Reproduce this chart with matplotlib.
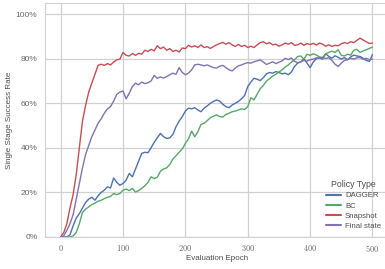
import matplotlib
matplotlib.use("Agg")
import matplotlib.pyplot as plt
import seaborn as sns
import numpy as np
from matplotlib.ticker import FuncFormatter, MultipleLocator

# evaluation epochs, every 5
epochs = np.arange(0, 505, 5)

# success rates (%)
dagger = [0, 0, 0, 1, 5, 8.5, 10.5, 13, 15.5, 17, 17.8, 16.5, 18.5, 20, 21, 22.5, 22, 26.5, 24.5, 23.2,
          24, 25.5, 28.5, 27, 30.5, 34, 37.5, 38, 37.8, 40, 42.5, 44.5, 46.5, 45, 44.2, 44.5, 46, 49.5, 52, 54,
          56.5, 57.8, 57.5, 58, 57, 56.2, 57.8, 58.8, 60, 60.8, 61.5, 61, 59.5, 58.5, 58, 59.2, 60, 60.8, 62, 63.5,
          67.5, 69.5, 71.2, 70.8, 70.2, 71.5, 73.2, 73.8, 73.5, 74.2, 73.8, 73.2, 73.5, 72.8, 74, 76.5, 78, 78.5, 80, 78,
          76, 78.5, 80, 80.4, 79.8, 82.2, 81, 80.2, 81.3, 80.6, 79.8, 80.5, 79.5, 80.8, 81.6, 81.2, 81, 80.2, 79.2, 78.8,
          81.8]
bc = [0, 0, 0, 0, 0.5, 2, 6, 11, 12.5, 13.5, 14.5, 15.2, 16, 16.5, 17.2, 17.8, 18.2, 19.5, 19, 19.5,
      21, 21.5, 20.8, 21.8, 20.2, 20.8, 21.8, 23, 24.5, 27, 26.2, 26.8, 29.5, 30.5, 31, 32.5, 35, 36.5, 38, 39.5,
      42, 44, 47.5, 45, 47.2, 50.5, 51, 52.2, 53.5, 54.2, 54.8, 54, 53.8, 55, 55.5, 56.2, 56.5, 57, 57.5, 57.2,
      58.5, 62.5, 61.5, 64, 66.5, 68, 70, 71, 72.2, 73, 74, 75, 76.2, 77.2, 78.5, 79.5, 81, 81.2, 79.8, 82,
      81.5, 82.2, 81.6, 80.8, 80.5, 82.2, 82.8, 83.4, 82.8, 84, 81.5, 81.2, 82, 81.6, 83.8, 84.2, 82.8, 83.5, 84, 84.6,
      85.2]
snapshot = [0, 2, 6, 13, 19, 28, 40, 52, 59, 65, 69, 73, 77, 77.5, 77, 77.8, 77.2, 78.5, 79.5, 79.8,
            82.8, 81.5, 81.2, 82.3, 81.5, 82.4, 82, 83.8, 83.2, 84.2, 83.5, 85.8, 84.5, 85.2, 83.8, 84.5, 83.2, 83.8, 83, 84.8,
            84.5, 86, 85.2, 85.8, 85, 86.2, 85, 85.4, 84.6, 85.4, 86.2, 86.8, 87.3, 86.5, 87.2, 86.2, 85.5, 86.4, 85.5, 86,
            85, 85.6, 85, 86.2, 87.2, 87.6, 86.7, 87.2, 86.2, 86.5, 85.6, 86.2, 87, 86.5, 87.2, 86, 86.2, 87, 86, 86.8,
            86.3, 86.9, 86.1, 87, 86.5, 85.6, 86.2, 85.5, 86, 85.8, 86.7, 87.2, 86.8, 87.6, 87.2, 88.2, 89.2, 88.4, 87.6, 86.8,
            87]
final_state = [0, 0.5, 3, 6, 10, 17, 24, 31, 37, 41, 45, 48, 51, 53, 55.5, 57.5, 58.5, 61, 64, 65,
               65.5, 62, 64.5, 67.5, 69, 68.3, 69.5, 68.8, 69.2, 70, 72.5, 71.2, 71.8, 71.3, 72, 72.8, 73.5, 73, 76, 73.8,
               72.8, 73.5, 75, 77.2, 77.5, 77.2, 76.8, 77.2, 76.6, 76, 75.8, 76.6, 77, 76, 75, 74.5, 75.8, 76.8, 77.2, 77.8,
               78.2, 78, 78.6, 79, 79.5, 78.5, 77.4, 78, 78.6, 77.8, 78.4, 79, 80.2, 79.6, 80.3, 78.8, 78.2, 78.6, 79.2, 78.9,
               79.5, 79.8, 80.4, 80.2, 80.6, 80.1, 80.4, 79.2, 77.5, 76.5, 78, 79.2, 79.6, 80.2, 79.8, 80.4, 80.5, 79.8, 80.2, 79.5,
               79.8]

series = ["DAGGER", "BC", "Snapshot", "Final state"]
values = [dagger, bc, snapshot, final_state]
colors = ["#4c72b0", "#55a868", "#c44e52", "#8172b2"]

sns.set_style("whitegrid")
plt.rcParams["font.family"] = ["Liberation Sans", "DejaVu Sans"]
plt.rcParams["mathtext.fontset"] = "cm"

fig = plt.figure(figsize=(3.85, 2.69), dpi=100)
# the right edge of the axes runs just past the picture, as in the original crop
ax = fig.add_axes([0.117, 0.119, 0.891, 0.870])

for name, vals, c in zip(series, values, colors):
    ax.plot(epochs, np.array(vals) / 100.0, color=c, linewidth=1.0, label=name)

ax.set_xlim(-25, 525)
ax.set_ylim(0, 1.05)
ax.xaxis.set_major_locator(MultipleLocator(100))
ax.yaxis.set_major_locator(MultipleLocator(0.2))
ax.xaxis.set_major_formatter(FuncFormatter(lambda v, p: r"$%d$" % v))
ax.yaxis.set_major_formatter(FuncFormatter(lambda v, p: "%d%%" % round(v * 100)))
ax.tick_params(labelsize=6, colors=".4", pad=2)
ax.tick_params(axis="x", pad=0.5)
ax.grid(color=".82", linewidth=0.9)
for s in ax.spines.values():
    s.set_color(".82")

ax.set_xlabel("Evaluation Epoch", fontsize=5.8, color=".3", labelpad=1)
ax.set_ylabel("Single Stage Success Rate", fontsize=5.8, color=".3")
ax.yaxis.set_label_coords(-0.093, 0.5)

leg = ax.legend(title="Policy Type", loc="lower right", fontsize=5.6, title_fontsize=6.3,
                frameon=False, handlelength=1.9, handletextpad=0.5, labelspacing=0.35,
                borderaxespad=0.5)
for line in leg.get_lines():
    line.set_linewidth(1.5)
for t in leg.get_texts():
    t.set_color(".3")
leg.get_title().set_color(".3")

fig.savefig("out.png", dpi=100)
